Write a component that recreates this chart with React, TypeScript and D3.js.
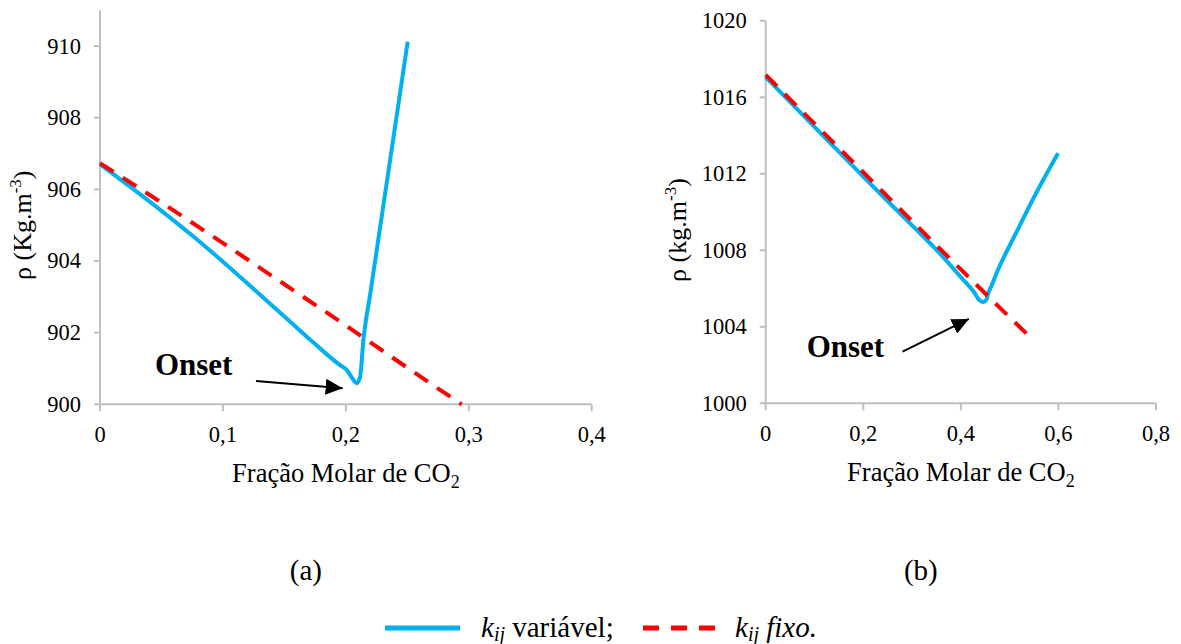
import React from 'react';
import * as d3 from 'd3';

// ---- Panel (a): CO2 molar fraction vs density ----
const aXTicks = [0, 0.1, 0.2, 0.3, 0.4];
const aYTicks = [900, 902, 904, 906, 908, 910];
const aVariavelX = [0, 0.025, 0.05, 0.075, 0.1, 0.125, 0.15, 0.175, 0.195, 0.2007, 0.205, 0.2088, 0.2115, 0.2143, 0.22, 0.23, 0.24, 0.2503];
const aVariavelY = [906.70, 906.06, 905.40, 904.71, 903.98, 903.22, 902.45, 901.68, 901.10, 900.96, 900.74, 900.59, 900.75, 901.80, 903.12, 905.43, 907.74, 910.12];
const aFixoX = [0, 0.05, 0.1, 0.15, 0.2, 0.25, 0.2942];
const aFixoY = [906.73, 905.63, 904.50, 903.35, 902.20, 901.02, 900.0];

// ---- Panel (b) ----
const bXTicks = [0, 0.2, 0.4, 0.6, 0.8];
const bYTicks = [1000, 1004, 1008, 1012, 1016, 1020];
const bVariavelX = [0, 0.1, 0.2, 0.3, 0.35, 0.4, 0.4287, 0.437, 0.4444, 0.452, 0.456, 0.4629, 0.4731, 0.514, 0.555, 0.5993];
const bVariavelY = [1017.06, 1014.45, 1011.85, 1009.30, 1008.02, 1006.60, 1005.75, 1005.42, 1005.30, 1005.40, 1005.75, 1006.15, 1006.80, 1008.95, 1011.02, 1013.07];
const bFixoX = [0, 0.1, 0.2, 0.3, 0.4, 0.5, 0.5468];
const bFixoY = [1017.17, 1014.62, 1012.08, 1009.53, 1007.00, 1004.50, 1003.35];

const BLUE = '#00b0f0';
const RED = '#ff0000';
const AXIS = '#bfbfbf';
const FONT = "'Liberation Serif', 'DejaVu Serif', serif";

const fmt = d3.formatLocale({ decimal: ',', thousands: '.', grouping: [3], currency: ['', ''] }).format('~g');

type PanelProps = {
  xDomain: [number, number];
  yDomain: [number, number];
  xRange: [number, number];
  yRange: [number, number];
  xTicks: number[];
  yTicks: number[];
  varX: number[];
  varY: number[];
  fixX: number[];
  fixY: number[];
  yUnit: string;
  yTitleX: number;
  onsetText: [number, number];
  arrowFrom: [number, number];
  arrowTo: [number, number];
  panelLabel: string;
};

function Panel(p: PanelProps) {
  const x = d3.scaleLinear().domain(p.xDomain).range(p.xRange);
  const y = d3.scaleLinear().domain(p.yDomain).range(p.yRange);
  const line = d3
    .line<[number, number]>()
    .x((d) => x(d[0]))
    .y((d) => y(d[1]))
    .curve(d3.curveMonotoneX);
  const varPts = p.varX.map((v, i) => [v, p.varY[i]] as [number, number]);
  const fixPts = p.fixX.map((v, i) => [v, p.fixY[i]] as [number, number]);
  const x0 = p.xRange[0];
  const y0 = p.yRange[0];
  const cx = (p.xRange[0] + p.xRange[1]) / 2;
  const cy = (p.yRange[0] + p.yRange[1]) / 2 + 18;

  return (
    <g>
      {/* axes */}
      <line x1={x0} x2={x0} y1={p.yRange[1]} y2={y0} stroke={AXIS} strokeWidth={2} />
      <line x1={x0} x2={p.xRange[1]} y1={y0} y2={y0} stroke={AXIS} strokeWidth={2} />
      {p.yTicks.map((t) => (
        <g key={'y' + t}>
          <line x1={x0 - 6} x2={x0} y1={y(t)} y2={y(t)} stroke={AXIS} strokeWidth={2} />
          <text x={x0 - 19} y={y(t) + 7.5} textAnchor="end" style={{ fontSize: '22.5px' }}>
            {fmt(t)}
          </text>
        </g>
      ))}
      {p.xTicks.map((t) => (
        <g key={'x' + t}>
          <line x1={x(t)} x2={x(t)} y1={y0} y2={y0 + 7} stroke={AXIS} strokeWidth={2} />
          <text x={x(t)} y={y0 + 37.5} textAnchor="middle" style={{ fontSize: '22.5px' }}>
            {fmt(t)}
          </text>
        </g>
      ))}

      {/* axis titles */}
      <text x={cx} y={y0 + 77.5} textAnchor="middle" style={{ fontSize: '26.5px' }}>
        Fração Molar de CO<tspan style={{ fontSize: '18px' }} dy={6}>2</tspan>
      </text>
      <text
        transform={`translate(${p.yTitleX},${cy}) rotate(-90)`}
        textAnchor="middle"
        style={{ fontSize: '26px' }}
      >
        ρ ({p.yUnit}.m<tspan style={{ fontSize: '17px' }} dy={-10}>-3</tspan>
        <tspan dy={10}>)</tspan>
      </text>

      {/* series */}
      <path d={line(varPts) ?? ''} fill="none" stroke={BLUE} strokeWidth={4} strokeLinejoin="round" />
      <path d={line(fixPts) ?? ''} fill="none" stroke={RED} strokeWidth={4} strokeDasharray="16 11" />

      {/* onset annotation */}
      <text x={x(p.onsetText[0])} y={y(p.onsetText[1])} style={{ fontSize: '31px', fontWeight: 'bold' }}>
        Onset
      </text>
      <line
        x1={x(p.arrowFrom[0])}
        y1={y(p.arrowFrom[1])}
        x2={x(p.arrowTo[0])}
        y2={y(p.arrowTo[1])}
        stroke="#000"
        strokeWidth={2}
        markerEnd="url(#arrowHead)"
      />

      <text x={cx - 40} y={580} textAnchor="middle" style={{ fontSize: '29px' }}>
        {p.panelLabel}
      </text>
    </g>
  );
}

export default function App() {
  return (
    <svg
      width={1181}
      height={644}
      viewBox="0 0 1181 644"
      style={{ position: 'absolute', left: 0, top: 0, background: '#fff', fontFamily: FONT, fill: '#000' }}
    >
      <defs>
        <marker
          id="arrowHead"
          markerUnits="userSpaceOnUse"
          markerWidth={18}
          markerHeight={16}
          refX={17}
          refY={8}
          orient="auto"
          viewBox="0 0 18 16"
        >
          <path d="M0,0 L17,8 L0,16 Z" fill="#000" />
        </marker>
      </defs>
      <rect width={1181} height={644} fill="#fff" />

      <Panel
        xDomain={[0, 0.4]}
        yDomain={[900, 911]}
        xRange={[100, 591.7]}
        yRange={[404.3, 10.2]}
        xTicks={aXTicks}
        yTicks={aYTicks}
        varX={aVariavelX}
        varY={aVariavelY}
        fixX={aFixoX}
        fixY={aFixoY}
        yUnit="Kg"
        yTitleX={31}
        onsetText={[0.0447, 900.82]}
        arrowFrom={[0.1269, 900.65]}
        arrowTo={[0.1974, 900.45]}
        panelLabel="(a)"
      />
      <Panel
        xDomain={[0, 0.8]}
        yDomain={[1000, 1020]}
        xRange={[765.7, 1156]}
        yRange={[403.3, 20.8]}
        xTicks={bXTicks}
        yTicks={bYTicks}
        varX={bVariavelX}
        varY={bVariavelY}
        fixX={bFixoX}
        fixY={bFixoY}
        yUnit="kg"
        yTitleX={686}
        onsetText={[0.084, 1002.44]}
        arrowFrom={[0.2806, 1002.7]}
        arrowTo={[0.4164, 1004.41]}
        panelLabel="(b)"
      />

      {/* legend */}
      <line x1={385} x2={460} y1={628} y2={628} stroke={BLUE} strokeWidth={5} />
      <text x={481} y={637} style={{ fontSize: '29px' }}>
        <tspan style={{ fontStyle: 'italic' }}>k</tspan>
        <tspan style={{ fontStyle: 'italic', fontSize: '20px' }} dy={4}>ij</tspan>
        <tspan dy={-4}> variável;</tspan>
      </text>
      <line x1={643} x2={715} y1={628} y2={628} stroke={RED} strokeWidth={5} strokeDasharray="16 12" />
      <text x={735} y={637} style={{ fontSize: '29px', fontStyle: 'italic' }}>
        <tspan>k</tspan>
        <tspan style={{ fontSize: '20px' }} dy={4}>ij</tspan>
        <tspan dy={-4}> fixo.</tspan>
      </text>
    </svg>
  );
}
